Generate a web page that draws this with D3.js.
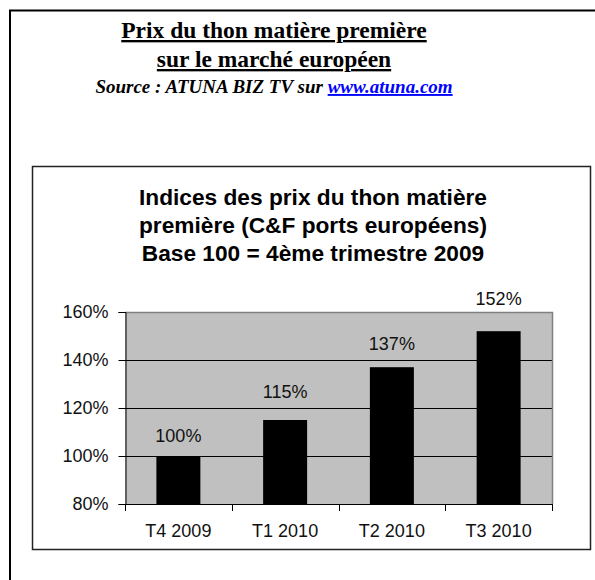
<!DOCTYPE html>
<html>
<head>
<meta charset="utf-8">
<script src="https://cdn.jsdelivr.net/npm/d3@7"></script>
<style>
  html, body { margin: 0; padding: 0; background: #fff; }
  svg { display: block; }
</style>
</head>
<body>
<svg id="chart" width="595" height="580"></svg>
<script>
const categories = ["T4 2009", "T1 2010", "T2 2010", "T3 2010"];
const values = [1.00, 1.15, 1.37, 1.52];
const yTicks = [0.8, 1.0, 1.2, 1.4, 1.6];
const pageTitle = ["Prix du thon matière première", "sur le marché européen"];
const sourcePrefix = "Source : ATUNA BIZ TV sur ";
const sourceLink = "www.atuna.com";
const chartTitle = ["Indices des prix du thon matière", "première (C&F ports européens)", "Base 100 = 4ème trimestre 2009"];

// vertical gap (px) between each bar top and its value label, as placed in the original
const labelGap = [14, 22, 17, 26];

const svg = d3.select("#chart");

// outer frame (extends past the viewport on right and bottom)
svg.append("path")
  .attr("d", "M10,600 L10,10.5 L620,10.5")
  .attr("fill", "none").attr("stroke", "#000").attr("stroke-width", 2);

// page title
const serif = "'Liberation Serif', 'Times New Roman', serif";
pageTitle.forEach((t, i) => {
  svg.append("text")
    .attr("x", 274).attr("y", 38 + i * 29)
    .attr("text-anchor", "middle")
    .attr("font-family", serif).attr("font-weight", "bold").attr("font-size", 23.5)
    .attr("text-decoration", "underline")
    .text(t);
});
const src = svg.append("text")
  .attr("x", 274).attr("y", 93)
  .attr("text-anchor", "middle")
  .attr("font-family", serif).attr("font-weight", "bold").attr("font-style", "italic").attr("font-size", 19);
src.append("tspan").text(sourcePrefix);
src.append("tspan").attr("fill", "#0000ff").attr("text-decoration", "underline").text(sourceLink);

// inner chart box
svg.append("rect")
  .attr("x", 32.5).attr("y", 166.5).attr("width", 558).attr("height", 383)
  .attr("fill", "#fff").attr("stroke", "#222").attr("stroke-width", 1.5);

const sans = "'Liberation Sans', Arial, sans-serif";
chartTitle.forEach((t, i) => {
  svg.append("text")
    .attr("x", 313).attr("y", 205 + i * 28)
    .attr("text-anchor", "middle")
    .attr("font-family", sans).attr("font-weight", "bold").attr("font-size", 22.7)
    .attr("fill", "#000")
    .text(t);
});

// scales
const x = d3.scaleBand().domain(categories).range([125, 552]).paddingInner(0.588).paddingOuter(0.294);
const y = d3.scaleLinear().domain([0.8, 1.6]).range([504, 312]);

// plot area background
svg.append("rect")
  .attr("x", 125).attr("y", y(1.6)).attr("width", 552 - 125).attr("height", y(0.8) - y(1.6))
  .attr("fill", "#c0c0c0");

// gridlines
svg.append("g").selectAll("line")
  .data(yTicks.filter(d => d > 0.8 && d < 1.6))
  .join("line")
  .attr("x1", 125).attr("x2", 552)
  .attr("y1", d => Math.round(y(d)) + 0.5).attr("y2", d => Math.round(y(d)) + 0.5)
  .attr("stroke", "#000").attr("stroke-width", 1);

// top/right plot border
svg.append("path")
  .attr("d", `M125,${y(1.6) + 0.5} L552.5,${y(1.6) + 0.5} L552.5,${y(0.8)}`)
  .attr("fill", "none").attr("stroke", "#808080").attr("stroke-width", 1.5);

// bars
svg.append("g").selectAll("rect")
  .data(values)
  .join("rect")
  .attr("x", (d, i) => x(categories[i]))
  .attr("width", x.bandwidth())
  .attr("y", d => y(d))
  .attr("height", d => y(0.8) - y(d))
  .attr("fill", "#000");

// value labels
svg.append("g").selectAll("text")
  .data(values)
  .join("text")
  .attr("x", (d, i) => x(categories[i]) + x.bandwidth() / 2)
  .attr("y", (d, i) => y(d) - labelGap[i])
  .attr("text-anchor", "middle")
  .attr("font-family", sans).attr("font-size", 18).attr("fill", "#111")
  .text(d => d3.format(".0%")(d));

// y axis
const yAxis = d3.axisLeft(y).tickValues(yTicks).tickFormat(d3.format(".0%")).tickSize(7).tickPadding(10);
const gy = svg.append("g").attr("transform", "translate(125.5,0)").call(yAxis);
gy.select(".domain").attr("stroke", "#000");
gy.selectAll(".tick line").attr("stroke", "#000");
gy.selectAll("text").attr("font-family", sans).attr("font-size", 18).attr("fill", "#111");

// x axis: ticks at category boundaries
const boundaries = [125, ...categories.map(c => x(c) + x.bandwidth() / 2 + x.step() / 2)];
const gx = svg.append("g");
gx.append("line")
  .attr("x1", 125).attr("x2", 552.5)
  .attr("y1", y(0.8) + 0.5).attr("y2", y(0.8) + 0.5)
  .attr("stroke", "#000");
gx.selectAll("line.tk")
  .data(boundaries)
  .join("line").attr("class", "tk")
  .attr("x1", d => Math.round(d) + 0.5).attr("x2", d => Math.round(d) + 0.5)
  .attr("y1", y(0.8)).attr("y2", y(0.8) + 7)
  .attr("stroke", "#000");
gx.selectAll("text")
  .data(categories)
  .join("text")
  .attr("x", d => x(d) + x.bandwidth() / 2)
  .attr("y", 537)
  .attr("text-anchor", "middle")
  .attr("font-family", sans).attr("font-size", 18).attr("fill", "#111")
  .text(d => d);
</script>
</body>
</html>
